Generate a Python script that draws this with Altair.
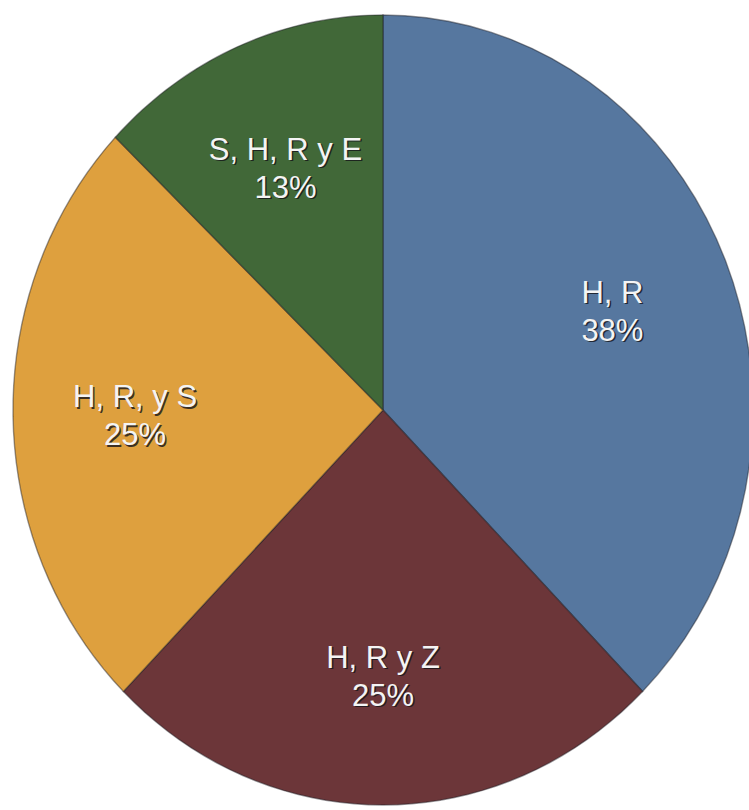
import altair as alt
import pandas as pd

# Slices, clockwise from 12 o'clock
categorias = ["H, R", "H, R y Z", "H, R, y S", "S, H, R y E"]
porcentajes = [38, 25, 25, 13]
colores = ["#56779f", "#6c3639", "#dea03e", "#416838"]

df = pd.DataFrame({"cat": categorias, "valor": porcentajes})

W, H = 749, 810
ARC_STEPS = 40  # polygon resolution of each slice's outer arc

# x and y use different pixel-per-unit scales, giving the elliptical pie
x_scale = alt.Scale(domain=[-1.0351, 0.9892], nice=False, zero=False)
y_scale = alt.Scale(domain=[-1.0127, 1.0380], nice=False, zero=False)
color_scale = alt.Scale(domain=categorias, range=colores)

base = alt.Chart(df).transform_joinaggregate(
    total="sum(valor)"
).transform_window(
    fin="sum(valor)", frame=[None, 0]
).transform_calculate(
    inicio="datum.fin - datum.valor",
    etiqueta="datum.cat + '\\n' + datum.valor + '%'",
)

slices = base.transform_calculate(
    pts=f"sequence(-1, {ARC_STEPS + 2})"
).transform_flatten(
    ["pts"]
).transform_calculate(
    ang=f"2 * PI * (datum.inicio + datum.valor * clamp(datum.pts, 0, {ARC_STEPS}) / {ARC_STEPS}) / datum.total",
    px=f"(datum.pts < 0 || datum.pts > {ARC_STEPS}) ? 0 : sin(datum.ang)",
    py=f"(datum.pts < 0 || datum.pts > {ARC_STEPS}) ? 0 : cos(datum.ang)",
).mark_line(
    clip=True, strokeWidth=1.4, strokeOpacity=0.45, interpolate="linear"
).encode(
    x=alt.X("px:Q", scale=x_scale, axis=None),
    y=alt.Y("py:Q", scale=y_scale, axis=None),
    fill=alt.Fill("cat:N", scale=color_scale, legend=None),
    stroke=alt.value("#1c1c24"),
    detail="cat:N",
    order=alt.Order("pts:Q"),
)

labels_base = base.transform_calculate(
    lx="0.67 * sin(2 * PI * (datum.inicio + datum.valor / 2) / datum.total)",
    ly="0.67 * cos(2 * PI * (datum.inicio + datum.valor / 2) / datum.total)",
)

text_style = dict(
    lineBreak="\n", lineHeight=38, fontSize=31, font="Liberation Sans",
    align="center", baseline="middle",
)

shadow = labels_base.mark_text(
    color="#15151a", opacity=0.8, dx=1.5, dy=-14.5, **text_style
).encode(
    x=alt.X("lx:Q", scale=x_scale, axis=None),
    y=alt.Y("ly:Q", scale=y_scale, axis=None),
    text="etiqueta:N",
)

labels = labels_base.mark_text(color="#f4f4f4", dy=-16, **text_style).encode(
    x=alt.X("lx:Q", scale=x_scale, axis=None),
    y=alt.Y("ly:Q", scale=y_scale, axis=None),
    text="etiqueta:N",
)

chart = alt.layer(slices, shadow, labels).properties(
    width=W, height=H, padding=0, autosize=alt.AutoSizeParams(type="none"),
    background="white",
).configure_view(stroke=None)

chart.save("out.html", embed_options={"renderer": "svg", "actions": False})
